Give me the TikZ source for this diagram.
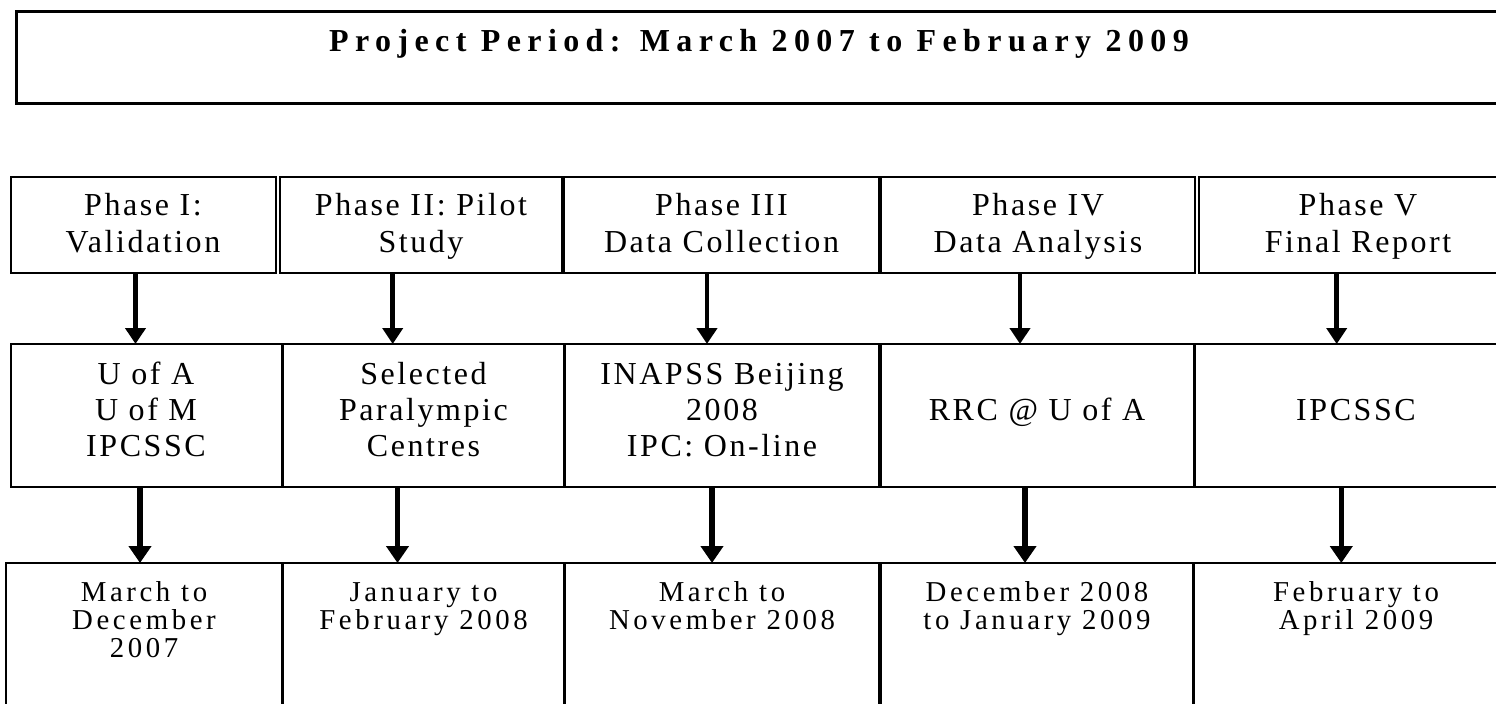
\documentclass[tikz,border=0pt]{standalone}
\usepackage{fontspec}
\setmainfont{Liberation Serif}
\newfontfamily\cellfont[LetterSpace=8]{Liberation Serif}
\newfontfamily\datefont[LetterSpace=12.5]{Liberation Serif}
\newfontfamily\titlefont[LetterSpace=20]{Liberation Serif}
\usetikzlibrary{arrows.meta,fit}
\tikzset{
  frame/.style={draw, line width=1pt, rectangle, inner sep=0pt, outer sep=0pt},
  hdrbox/.style={frame, line width=1.5pt},
  phasetxt/.style={anchor=base, align=center, inner sep=0pt,
    font=\cellfont\fontsize{16}{18.25}\selectfont},
  sitetxt/.style={anchor=base, align=center, inner sep=0pt,
    font=\cellfont\fontsize{16}{18}\selectfont},
  datetxt/.style={anchor=base, align=center, inner sep=0pt,
    font=\datefont\fontsize{14.4}{14}\selectfont},
  titletxt/.style={anchor=base, inner sep=0pt,
    font=\titlefont\bfseries\fontsize{16}{18}\selectfont},
  arrA/.style={line width=2.25pt, -{Triangle[width=10pt,length=8pt]}},
  arrB/.style={line width=2.75pt, -{Triangle[width=11pt,length=8.5pt]}},
}
\begin{document}
\begin{tikzpicture}[x=0.5pt,y=-0.5pt]
\useasboundingbox (0,0) rectangle (1496,703);
\clip (0,0) rectangle (1496,703);
\fill[white] (0,0) rectangle (1496,703);

% header
\node[hdrbox, fit={(16,11) (1530,103)}] (hdr) {};
\node[titletxt] (title) at (759,51) {Project Period: March 2007 to February 2009};

% phase row
\node[frame, fit={(11,177) (275.5,273)}] (p1) {};
\node[frame, fit={(279.5,177) (562,273)}] (p2) {};
\node[frame, fit={(564,177) (879,273)}] (p3) {};
\node[frame, fit={(881,177) (1195,273)}] (p4) {};
\node[frame, fit={(1199,177) (1530,273)}] (p5) {};
\node[phasetxt] (pt1) at (143,252) {Phase I:\\Validation};
\node[phasetxt] (pt2) at (421,252) {Phase II: Pilot\\Study};
\node[phasetxt] (pt3) at (721.5,252) {Phase III\\Data Collection};
\node[phasetxt] (pt4) at (1038,252) {Phase IV\\Data Analysis};
\node[phasetxt] (pt5) at (1358,252) {Phase V\\Final Report};

% site row
\node[frame, fit={(11,344) (281.75,486.5)}] (m1) {};
\node[frame, fit={(283.25,344) (563.75,486.5)}] (m2) {};
\node[frame, fit={(565.25,344) (879.25,486.5)}] (m3) {};
\node[frame, fit={(880.75,344) (1193.75,486.5)}] (m4) {};
\node[frame, fit={(1195.25,344) (1530,486.5)}] (m5) {};
\node[sitetxt] (mt1) at (146,456) {U of A\\U of M\\IPCSSC};
\node[sitetxt] (mt2) at (423.5,456) {Selected\\Paralympic\\Centres};
\node[sitetxt] (mt3) at (722,456) {INAPSS Beijing\\2008\\IPC: On-line};
\node[sitetxt] (mt4) at (1037,420) {RRC @ U of A};
\node[sitetxt] (mt5) at (1356,420) {IPCSSC};

% date row
\node[frame, fit={(6,563) (281.75,760)}] (d1) {};
\node[frame, fit={(283.25,563) (563.75,760)}] (d2) {};
\node[frame, fit={(565.25,563) (879.25,760)}] (d3) {};
\node[frame, fit={(880.75,563) (1192.75,760)}] (d4) {};
\node[frame, fit={(1194.25,563) (1530,760)}] (d5) {};
\node[datetxt] (dt1) at (144,657) {March to\\December\\2007};
\node[datetxt] (dt2) at (423.5,629.5) {January to\\February 2008};
\node[datetxt] (dt3) at (722,629.5) {March to\\November 2008};
\node[datetxt] (dt4) at (1037,629.5) {December 2008\\to January 2009};
\node[datetxt] (dt5) at (1356,629.5) {February to\\April 2009};

% arrow columns
\coordinate (a1) at (135.5,0);
\coordinate (a2) at (392.7,0);
\coordinate (a3) at (707,0);
\coordinate (a4) at (1020,0);
\coordinate (a5) at (1336.7,0);
\coordinate (b1) at (140,0);
\coordinate (b2) at (397.5,0);
\coordinate (b3) at (712,0);
\coordinate (b4) at (1025,0);
\coordinate (b5) at (1341.3,0);

\draw[arrA] (p1.south -| a1) -- (m1.north -| a1);
\draw[arrA] (p2.south -| a2) -- (m2.north -| a2);
\draw[arrA] (p3.south -| a3) -- (m3.north -| a3);
\draw[arrA] (p4.south -| a4) -- (m4.north -| a4);
\draw[arrA] (p5.south -| a5) -- (m5.north -| a5);

\draw[arrB] (m1.south -| b1) -- (d1.north -| b1);
\draw[arrB] (m2.south -| b2) -- (d2.north -| b2);
\draw[arrB] (m3.south -| b3) -- (d3.north -| b3);
\draw[arrB] (m4.south -| b4) -- (d4.north -| b4);
\draw[arrB] (m5.south -| b5) -- (d5.north -| b5);
\end{tikzpicture}
\end{document}
